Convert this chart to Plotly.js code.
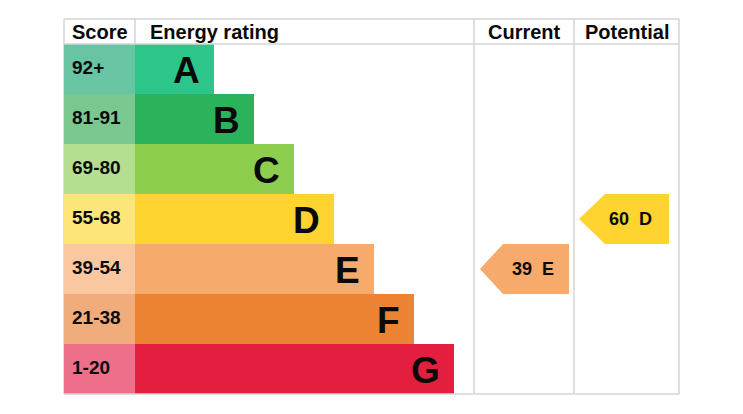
<!DOCTYPE html>
<html>
<head>
<meta charset="utf-8">
<script src="https://cdn.plot.ly/plotly-3.0.1.min.js"></script>
<style>
  html, body { margin: 0; padding: 0; background: #fff; }
  #chart { width: 743px; height: 414px; }
</style>
</head>
<body>
<div id="chart"></div>
<script>
// ── Datos ──────────────────────────────────────────────────────────────────
const bands       = ['A', 'B', 'C', 'D', 'E', 'F', 'G'];
const scoreRanges = ['92+', '81-91', '69-80', '55-68', '39-54', '21-38', '1-20'];
const bandMin     = [92, 81, 69, 55, 39, 21, 1];
const barColors   = ['#2cc68a', '#2bb35c', '#8dce4f', '#ffd430', '#f6aa6b', '#ec8333', '#e31e3e'];
const scoreColors = ['#68c4a3', '#78c88f', '#b5df90', '#fee57a', '#f9c8a0', '#f0ac7a', '#ee6f89'];
const headers     = ['Score', 'Energy rating', 'Current', 'Potential'];
const currentScore   = 39;
const potentialScore = 60;

// ── Geometría de la tabla (px) ─────────────────────────────────────────────
const X_LEFT = 64, X_SCORE = 135, X_CUR = 474, X_POT = 574, X_RIGHT = 679;
const BAR_MIN = 79, BAR_STEP = 40;
const GRID = '#d4d4d4';
const FONT = 'Liberation Sans, Arial, sans-serif';
const INK = '#0a0a0a';

function bandIndex(score) {
  for (let i = 0; i < bandMin.length; i++) if (score >= bandMin[i]) return i;
  return bandMin.length - 1;
}

const rows = bands.map((_, i) => i);
const barLen = bands.map((_, i) => BAR_MIN + BAR_STEP * i);

function arrowTrace(score, x0, x1, tip) {
  const r = bandIndex(score);
  const xs = [x0, x0 + tip, x1, x1, x0 + tip, x0];
  const ys = [r, r - 0.5, r - 0.5, r + 0.5, r + 0.5, r];
  return {
    type: 'scatter', mode: 'lines', x: xs, y: ys,
    fill: 'toself', fillcolor: barColors[r],
    line: { width: 0 }, hoverinfo: 'skip', showlegend: false,
  };
}

const traces = [
  {
    type: 'bar', orientation: 'h', y: rows, x: rows.map(() => X_SCORE - X_LEFT),
    base: X_LEFT, width: 1, marker: { color: scoreColors, line: { width: 0 } },
    hoverinfo: 'skip', showlegend: false,
  },
  {
    type: 'bar', orientation: 'h', y: rows, x: barLen,
    base: X_SCORE, width: 1, marker: { color: barColors, line: { width: 0 } },
    hoverinfo: 'skip', showlegend: false,
  },
  arrowTrace(currentScore, 480, 569, 23),
  arrowTrace(potentialScore, 579, 669, 26),
];

const annotations = [];
bands.forEach((b, i) => {
  annotations.push({
    x: X_SCORE + barLen[i] - 12, y: i + 0.02, xanchor: 'right', yanchor: 'middle',
    text: '<b>' + b + '</b>', showarrow: false,
    font: { family: FONT, size: 37, color: INK },
  });
  annotations.push({
    x: X_LEFT + 6, y: i - 0.03, xanchor: 'left', yanchor: 'middle',
    text: '<b>' + scoreRanges[i] + '</b>', showarrow: false,
    font: { family: FONT, size: 19, color: INK },
  });
});

const headerX = [X_LEFT + 6, X_SCORE + 13, (X_CUR + X_POT) / 2, (X_POT + X_RIGHT) / 2];
const headerAnchor = ['left', 'left', 'center', 'center'];
headers.forEach((h, i) => {
  annotations.push({
    x: headerX[i], y: -0.75, xanchor: headerAnchor[i], yanchor: 'middle',
    text: '<b>' + h + '</b>', showarrow: false,
    font: { family: FONT, size: 20, color: INK },
  });
});

[[currentScore, 533], [potentialScore, 630]].forEach(([s, x]) => {
  annotations.push({
    x: x, y: bandIndex(s), xanchor: 'center', yanchor: 'middle',
    text: '<b>' + s + '  ' + bands[bandIndex(s)] + '</b>', showarrow: false,
    font: { family: FONT, size: 18, color: INK },
  });
});

function hline(y, x0, x1) {
  return { type: 'line', xref: 'x', yref: 'y', x0, x1, y0: y, y1: y,
           line: { color: GRID, width: 1.5 }, layer: 'above' };
}
function vline(x, y0, y1) {
  return { type: 'line', xref: 'x', yref: 'y', x0: x, x1: x, y0, y1,
           line: { color: GRID, width: 1.5 }, layer: 'below' };
}

const shapes = [
  hline(-1, X_LEFT, X_RIGHT),
  hline(-0.5, X_LEFT, X_RIGHT),
  hline(6.5, X_LEFT, X_RIGHT),
  vline(X_LEFT, -1, 6.5),
  vline(X_SCORE, -1, -0.5),
  vline(X_CUR, -1, 6.5),
  vline(X_POT, -1, 6.5),
  vline(X_RIGHT, -1, 6.5),
];

const layout = {
  width: 743, height: 414,
  margin: { l: 0, r: 0, t: 0, b: 0 },
  paper_bgcolor: '#fff', plot_bgcolor: '#fff',
  xaxis: { range: [0, 743], visible: false, fixedrange: true },
  yaxis: { range: [6.9, -1.38], visible: false, fixedrange: true },
  barmode: 'overlay',
  showlegend: false,
  hovermode: false,
  annotations, shapes,
};

Plotly.newPlot('chart', traces, layout, { displayModeBar: false, staticPlot: true });
</script>
</body>
</html>
